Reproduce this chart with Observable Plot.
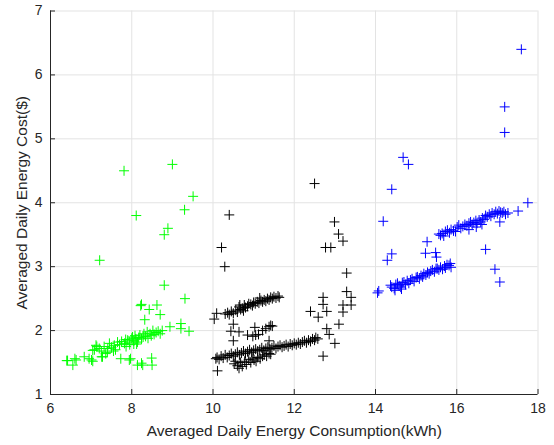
<!DOCTYPE html>
<html>
<head>
<meta charset="utf-8">
<script src="https://cdn.jsdelivr.net/npm/d3@7"></script>
<script src="https://cdn.jsdelivr.net/npm/@observablehq/plot@0.6"></script>
<style>
  html, body { margin: 0; padding: 0; background: #fff; }
  #chart svg { display: block; }
</style>
</head>
<body>
<div id="chart"></div>
<script>
const xLabel = "Averaged Daily Energy Consumption(kWh)";
const yLabel = "Averaged Daily Energy Cost($)";
const xTicks = [6, 8, 10, 12, 14, 16, 18];
const yTicks = [1, 2, 3, 4, 5, 6, 7];

const greenX = [7.81,9.00,9.51,9.30,8.11,8.89,8.80,7.21,8.80,9.31,8.22,8.24,8.43,8.62,8.70,8.32,8.94,9.21,9.21,9.41,
  6.40,6.42,6.55,6.60,6.63,6.83,6.95,7.04,7.01,7.26,7.28,7.73,7.94,7.97,8.14,8.27,8.24,8.49,8.50,
  7.04,7.12,7.08,7.14,7.20,7.25,7.32,7.36,7.41,7.45,7.50,7.57,7.60,7.65,7.70,7.75,7.82,7.85,7.90,7.95,8.00,8.02,8.05,8.08,8.10,8.14,8.17,8.20,8.24,8.28,8.30,8.34,8.38,8.40,8.45,8.48,8.52,8.55,8.60,8.65,8.70,8.75,7.95,8.05,7.86,7.40,7.55,8.12];
const greenY = [4.50,4.60,4.10,3.89,3.80,3.60,3.50,3.10,2.71,2.50,2.39,2.41,2.33,2.40,2.25,2.17,2.06,2.11,2.03,1.99,
  1.53,1.53,1.46,1.56,1.54,1.59,1.56,1.52,1.54,1.59,1.59,1.56,1.54,1.56,1.46,1.46,1.49,1.57,1.46,
  1.69,1.77,1.70,1.75,1.72,1.68,1.75,1.64,1.72,1.80,1.74,1.77,1.70,1.82,1.78,1.83,1.80,1.86,1.85,1.82,1.88,1.90,1.84,1.92,1.87,1.82,1.89,1.93,1.87,1.90,1.95,1.91,1.98,1.88,1.95,1.92,2.00,1.94,1.97,1.99,1.95,2.00,1.78,1.79,1.75,1.66,1.68,1.79];

const blackX = [12.50,10.40,12.99,13.09,13.20,10.21,12.77,12.90,10.29,13.29,13.29,13.40,13.40,13.20,13.20,12.71,12.71,12.80,12.40,12.59,13.10,12.80,12.86,13.00,12.71,
  10.03,10.09,10.30,10.36,10.40,10.45,10.50,10.56,10.60,10.64,10.68,10.72,10.77,10.80,10.85,10.88,10.93,10.97,11.00,11.04,11.09,11.13,11.18,11.22,11.26,11.30,11.34,11.38,11.42,11.46,11.50,11.55,11.60,11.63,10.66,10.75,11.15,
  10.50,10.44,10.64,10.50,10.85,11.03,11.05,11.22,11.30,11.42,11.38,11.46,11.38,10.98,11.12,
  10.07,10.10,10.15,10.20,10.25,10.30,10.35,10.40,10.45,10.50,10.55,10.60,10.65,10.70,10.75,10.80,10.85,10.90,10.95,11.00,11.05,11.10,11.15,11.20,11.25,11.30,11.35,11.40,11.45,11.50,11.55,11.60,11.65,11.70,11.75,11.80,11.85,11.90,11.95,12.00,12.05,12.10,12.15,12.20,12.25,12.30,12.35,12.40,12.45,12.50,12.53,12.58,
  10.52,10.55,10.60,10.64,10.68,10.72,10.78,10.82,10.88,10.93,10.98,11.01,11.06,11.10,11.16,11.22,11.26,11.32,11.38,11.42,10.11];
const blackY = [4.30,3.81,3.70,3.51,3.40,3.30,3.30,3.30,3.00,2.90,2.61,2.52,2.40,2.40,2.29,2.52,2.41,2.30,2.30,2.21,2.10,2.03,1.94,1.80,1.60,
  2.18,2.27,2.26,2.28,2.25,2.30,2.27,2.32,2.29,2.37,2.33,2.35,2.40,2.36,2.38,2.42,2.41,2.39,2.44,2.42,2.45,2.43,2.47,2.45,2.48,2.46,2.50,2.48,2.52,2.50,2.53,2.51,2.54,2.52,2.40,2.31,2.51,
  2.10,1.99,1.98,1.84,1.93,2.05,1.93,2.00,2.03,2.08,2.06,2.07,1.84,1.91,1.94,
  1.56,1.58,1.55,1.60,1.57,1.62,1.58,1.61,1.64,1.60,1.63,1.66,1.62,1.65,1.68,1.64,1.67,1.70,1.66,1.69,1.71,1.68,1.70,1.73,1.69,1.72,1.74,1.71,1.73,1.76,1.72,1.75,1.77,1.74,1.76,1.78,1.75,1.79,1.77,1.80,1.78,1.81,1.79,1.82,1.84,1.81,1.85,1.83,1.87,1.85,1.89,1.87,
  1.48,1.52,1.45,1.41,1.50,1.44,1.52,1.47,1.55,1.50,1.57,1.54,1.52,1.58,1.56,1.60,1.62,1.60,1.64,1.63,1.37];

const blueX = [17.59,17.18,17.18,14.68,14.81,14.40,17.75,14.19,15.27,15.23,15.48,15.50,14.40,14.29,16.71,16.94,17.06,14.05,14.08,17.51,17.06,
  14.37,14.40,14.46,14.50,14.54,14.58,14.62,14.66,14.70,14.74,14.78,14.82,14.86,14.90,14.95,15.00,15.03,15.08,15.12,15.16,15.19,15.24,15.28,15.32,15.36,15.40,15.45,15.49,15.52,15.56,15.60,15.65,15.70,15.72,15.76,15.81,15.84,15.86,14.48,14.64,
  15.56,15.60,15.64,15.68,15.72,15.77,15.82,15.86,15.92,15.97,16.01,16.05,16.10,16.15,16.20,16.25,16.30,16.34,16.38,16.42,16.47,16.50,16.55,16.59,16.63,16.67,16.71,16.75,16.80,16.84,16.87,16.92,16.96,17.00,17.04,17.08,17.12,17.16,17.20,17.26,16.48,16.62,16.30];
const blueY = [6.40,5.50,5.10,4.71,4.60,4.21,4.00,3.71,3.39,3.21,3.22,3.15,3.20,3.10,3.27,2.96,2.76,2.59,2.62,3.87,3.70,
  2.71,2.68,2.66,2.72,2.74,2.70,2.68,2.75,2.76,2.72,2.78,2.74,2.79,2.81,2.77,2.83,2.84,2.81,2.86,2.84,2.89,2.87,2.91,2.89,2.93,2.95,2.92,2.97,2.97,2.95,2.99,2.96,3.01,2.98,3.03,3.02,3.05,2.99,2.63,2.65,
  3.51,3.49,3.52,3.48,3.55,3.57,3.53,3.58,3.56,3.55,3.62,3.65,3.60,3.63,3.66,3.64,3.68,3.70,3.66,3.69,3.72,3.68,3.73,3.70,3.76,3.74,3.80,3.78,3.82,3.79,3.84,3.82,3.86,3.83,3.87,3.85,3.84,3.86,3.82,3.84,3.62,3.66,3.58];

const toRows = (xs, ys) => xs.map((x, i) => ({x, y: ys[i]}));
const green = toRows(greenX, greenY);
const black = toRows(blackX, blackY);
const blue = toRows(blueX, blueY);

const plusSymbol = {
  draw(context, size) {
    const h = Math.sqrt(size / Math.PI);
    context.moveTo(-h, 0); context.lineTo(h, 0);
    context.moveTo(0, -h); context.lineTo(0, h);
  }
};

const axisColor = "#262626";
const font = "'Liberation Sans', Arial, Helvetica, sans-serif";
const fmt = d3.format("d");

const chart = Plot.plot({
  width: 554,
  height: 445,
  marginLeft: 50,
  marginRight: 16.5,
  marginTop: 10.5,
  marginBottom: 51,
  style: {fontFamily: font, fontSize: "14px", color: axisColor, background: "#fff"},
  x: {domain: [6, 18], ticks: xTicks},
  y: {domain: [1, 7], ticks: yTicks},
  marks: [
    Plot.gridX(xTicks, {stroke: "#e3e3e3", strokeOpacity: 1}),
    Plot.gridY(yTicks, {stroke: "#e3e3e3", strokeOpacity: 1}),
    Plot.axisX(xTicks, {tickSize: 0, tickPadding: 9, label: null, tickFormat: fmt, fill: axisColor, fontSize: 14}),
    Plot.axisY(yTicks, {tickSize: 0, tickPadding: 8, label: null, tickFormat: fmt, fill: axisColor, fontSize: 14}),
    Plot.ruleX(xTicks, {x: d => d, y1: 1, y2: 1 + 5 / 64, stroke: axisColor}),
    Plot.ruleY(yTicks, {y: d => d, x1: 6, x2: 6 + 5 / 40.7, stroke: axisColor}),
    Plot.ruleX([6], {stroke: axisColor}),
    Plot.ruleY([1], {stroke: axisColor}),
    Plot.dot(green, {x: "x", y: "y", symbol: plusSymbol, r: 5, stroke: "#00ff00", strokeWidth: 1, fill: "none"}),
    Plot.dot(black, {x: "x", y: "y", symbol: plusSymbol, r: 5, stroke: "#000000", strokeWidth: 1, fill: "none"}),
    Plot.dot(blue, {x: "x", y: "y", symbol: plusSymbol, r: 5, stroke: "#0000ff", strokeWidth: 1, fill: "none"}),
    Plot.text([xLabel], {text: d => d, frameAnchor: "bottom", textAnchor: "middle", dy: 37, fontSize: 15.5, fill: axisColor, lineAnchor: "middle"}),
    Plot.text([yLabel], {text: d => d, frameAnchor: "left", textAnchor: "middle", dx: -28, rotate: -90, fontSize: 15.5, fill: axisColor, lineAnchor: "middle"})
  ]
});
document.getElementById("chart").appendChild(chart);
</script>
</body>
</html>
